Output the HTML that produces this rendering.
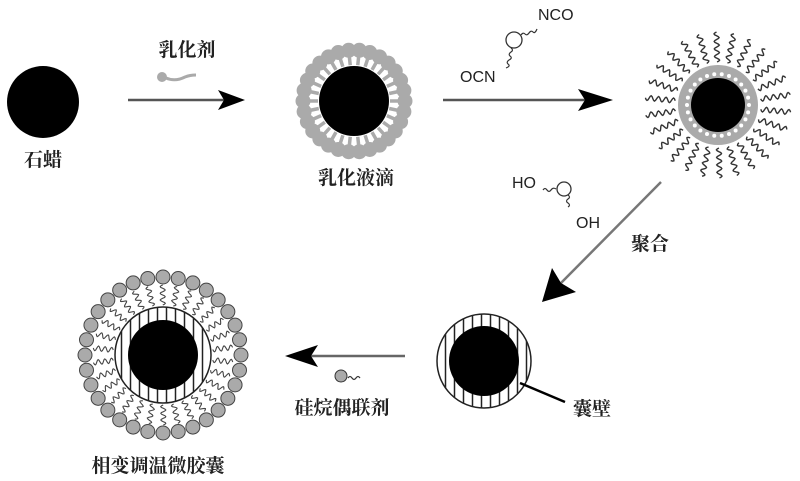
<!DOCTYPE html>
<html><head><meta charset="utf-8">
<style>
html,body{margin:0;padding:0;background:#fff;}
svg{display:block;}
.cn{font-family:"Liberation Serif","Noto Serif CJK SC",serif;font-weight:bold;font-size:19px;fill:#222;}
.en{font-family:"Liberation Sans",sans-serif;font-size:16px;fill:#222;}
</style></head>
<body>
<svg id="s" width="800" height="481" viewBox="0 0 800 481" xmlns="http://www.w3.org/2000/svg">
<defs>
<pattern id="hatch" width="9" height="10" patternUnits="userSpaceOnUse">
<rect width="9" height="10" fill="#fff"/><line x1="4.5" y1="0" x2="4.5" y2="10" stroke="#222" stroke-width="1.5"/>
</pattern>
</defs>
<circle cx="43" cy="102" r="36" fill="#000"/>
<text class="cn" x="43" y="166" text-anchor="middle">石蜡</text>
<line x1="128" y1="100" x2="225" y2="100" stroke="#555" stroke-width="2.5"/>
<polygon points="245,100 218,90 224,100 218,110" fill="#000"/>
<text class="cn" x="187" y="56" text-anchor="middle">乳化剂</text>
<circle cx="162" cy="77" r="5" fill="#aaa"/>
<path d="M166,78 Q175,82 185,77 Q190,75 196,75" stroke="#aaa" stroke-width="3" fill="none"/>
<g id="emul"></g>
<text class="cn" x="356" y="184" text-anchor="middle">乳化液滴</text>
<line x1="443" y1="100" x2="590" y2="100" stroke="#555" stroke-width="2.5"/>
<polygon points="613,100 578,89 585,100 578,111" fill="#000"/>
<circle cx="514" cy="40" r="8" fill="none" stroke="#333" stroke-width="1.3"/>
<path d="M521,35 q2,-3 4,-1 q2,2 4,-1 q2,-3 4,-1 q2,2 4,-3" stroke="#333" fill="none" stroke-width="1.2"/>
<path d="M511,48 q3,2 0,4 q-3,2 -1,4 q3,2 -1,4 q-3,2 -1,4 q3,2 -2,4" stroke="#333" fill="none" stroke-width="1.2"/>
<text class="en" x="538" y="20">NCO</text>
<text class="en" x="460" y="82">OCN</text>
<g id="third"></g>
<text class="en" x="512" y="188">HO</text>
<path d="M543,190 q2,-3 4,0 q2,3 4,0 q2,-3 5,-1" stroke="#333" fill="none" stroke-width="1.2"/>
<circle cx="564" cy="189" r="7" fill="none" stroke="#333" stroke-width="1.3"/>
<path d="M568,195 q3,2 0,4 q-3,2 0,4 q3,2 0,4" stroke="#333" fill="none" stroke-width="1.2"/>
<text class="en" x="576" y="228">OH</text>
<line x1="661" y1="182" x2="560" y2="284" stroke="#777" stroke-width="2.5"/>
<polygon points="542,302 552,268 561,283 576,292" fill="#000"/>
<text class="cn" x="650" y="250" text-anchor="middle">聚合</text>
<circle cx="484" cy="361" r="47" fill="url(#hatch)" stroke="#222" stroke-width="1.5"/>
<circle cx="484" cy="361" r="35" fill="#000"/>
<line x1="520" y1="383" x2="565" y2="402" stroke="#000" stroke-width="2.5"/>
<text class="cn" x="592" y="415" text-anchor="middle">囊壁</text>
<line x1="405" y1="356" x2="305" y2="356" stroke="#666" stroke-width="2.5"/>
<polygon points="285,356 318,345 311,356 318,367" fill="#000"/>
<circle cx="341" cy="376" r="6" fill="#aaa" stroke="#333" stroke-width="1"/>
<path d="M348,378 q2,-3 4,0 q2,3 4,0 q2,-3 4,0" stroke="#333" fill="none" stroke-width="1.2"/>
<text class="cn" x="342" y="414" text-anchor="middle">硅烷偶联剂</text>
<g id="fin"></g>
<text class="cn" x="158" y="472" text-anchor="middle">相变调温微胶囊</text>
</svg>
<script>
var NS="http://www.w3.org/2000/svg";
function el(p,t,a){var e=document.createElementNS(NS,t);for(var k in a)e.setAttribute(k,a[k]);p.appendChild(e);return e;}
function wig(cx,cy,ang,r0,r1,amp,n){var d="";var steps=n*8;for(var i=0;i<=steps;i++){var r=r0+(r1-r0)*i/steps;var o=amp*Math.sin(i/8*2*Math.PI);var x=cx+r*Math.cos(ang)-o*Math.sin(ang);var y=cy+r*Math.sin(ang)+o*Math.cos(ang);d+=(i?"L":"M")+x.toFixed(1)+","+y.toFixed(1);}return d;}
var g=document.getElementById("emul");var cx=354,cy=101;
for(var i=0;i<30;i++){var a=i/30*2*Math.PI;
el(g,"circle",{cx:cx+51*Math.cos(a),cy:cy+51*Math.sin(a),r:7.5,fill:"#aaa"});
el(g,"line",{x1:cx+36*Math.cos(a),y1:cy+36*Math.sin(a),x2:cx+48*Math.cos(a),y2:cy+48*Math.sin(a),stroke:"#aaa","stroke-width":3.5});}
el(g,"circle",{cx:cx,cy:cy,r:35,fill:"#000"});
g=document.getElementById("third");cx=718;cy=105;
el(g,"circle",{cx:cx,cy:cy,r:40,fill:"#aaa"});
for(i=0;i<26;i++){var a=i/26*2*Math.PI;el(g,"circle",{cx:cx+31*Math.cos(a),cy:cy+31*Math.sin(a),r:2,fill:"#fff"});}
el(g,"circle",{cx:cx,cy:cy,r:27,fill:"#000"});
for(i=0;i<26;i++){var a=i/26*2*Math.PI+0.1;el(g,"path",{d:wig(cx,cy,a,43,73,2.5,4),stroke:"#333",fill:"none","stroke-width":1.4});}
g=document.getElementById("fin");cx=163;cy=355;
for(i=0;i<30;i++){var a=i/30*2*Math.PI+0.1;el(g,"path",{d:wig(cx,cy,a,50,70,2.5,3),stroke:"#444",fill:"none","stroke-width":1.1});}
for(i=0;i<32;i++){var a=i/32*2*Math.PI;el(g,"circle",{cx:cx+78*Math.cos(a),cy:cy+78*Math.sin(a),r:7,fill:"#aaa",stroke:"#444","stroke-width":1});}
el(g,"circle",{cx:cx,cy:cy,r:48,fill:"url(#hatch)",stroke:"#222","stroke-width":1.5});
el(g,"circle",{cx:cx,cy:cy,r:35,fill:"#000"});
</script>
</body></html>
